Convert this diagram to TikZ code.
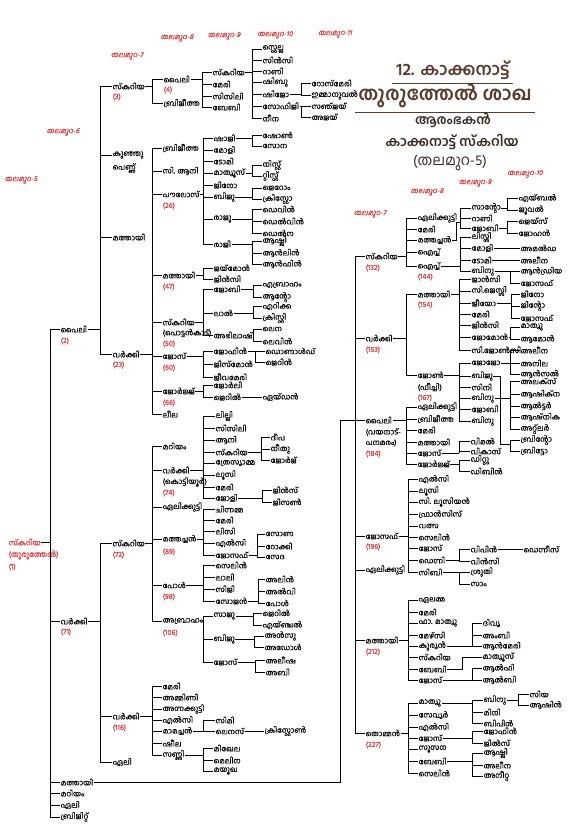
\documentclass[tikz,border=0pt]{standalone}
\usepackage{fontspec}
\newfontfamily\ml[Script=Malayalam,FakeBold=0.35]{Hind Kochi}
\newfontfamily\mlt[Script=Malayalam]{Hind Kochi}
\newfontfamily\mlsl[Script=Malayalam,FakeSlant=0.22,FakeBold=0.3]{Hind Kochi}
\definecolor{numred}{HTML}{E03A3E}
\definecolor{genred}{HTML}{D93A3A}
\definecolor{brn}{HTML}{5A3A2C}
\definecolor{dbrn}{HTML}{3A2A24}
\tikzset{
 nm/.style={anchor=west,inner sep=0.5pt,font=\ml\fontsize{7.5}{8}\selectfont},
 nr/.style={nm,text=numred},
 gn/.style={anchor=center,inner sep=0pt,text=genred,font=\mlsl\fontsize{7.3}{8}\selectfont},
 ln/.style={line width=0.8pt},
}
\newcommand\N[4]{\node[nm] (#1) at (#2,#3) {#4};}
\newcommand\Nr[4]{\node[nr] (#1) at (#2,#3) {#4};}
\newcommand\fm[3]{\draw[ln] (#1.east) -- (#2,0 |- #1.east);
 \foreach \chld in {#3}{\draw[ln] (#2,0 |- #1.east) -- (#2,0 |- \chld.west) -- (\chld.west);}}
\newcommand\lk[2]{\draw[ln] (#1.east) -- (#2.west);}
\begin{document}
\begin{tikzpicture}[x=1pt,y=-1pt]
\fill[white] (0,0) rectangle (575,840);
\useasboundingbox (0,0) rectangle (575,840);
% titles
\node[font=\mlt\bfseries\fontsize{17}{20}\selectfont,text=brn] (tt1) at (453,70) {12. കാക്കനാട്ട്};
\draw[brn,line width=0.8pt] (392,83) -- (513,83);
\node[font=\mlt\bfseries\fontsize{19}{22}\selectfont,text=brn] (tt2) at (445,96) {തുരുത്തേൽ ശാഖ};
\draw[brn,line width=0.8pt] (355,112) -- (535,112);
\node[font=\mlt\bfseries\fontsize{13}{15}\selectfont,text=dbrn] (tt3) at (453,120) {ആരംഭകൻ};
\node[font=\mlt\bfseries\fontsize{13.5}{15}\selectfont,text=dbrn] (tt4) at (452,142) {കാക്കനാട്ട് സ്കറിയ};
\node[font=\mlt\fontsize{14.5}{16}\selectfont,text=dbrn] (tt5) at (450,163) {(തലമുറ-5)};
% generation labels
\node[gn] (g05) at (21,180) {തലമുറ-5};
\node[gn] (g06) at (63,132) {തലമുറ-6};
\node[gn] (g07) at (127,56) {തലമുറ-7};
\node[gn] (g08) at (177,38) {തലമുറ-8};
\node[gn] (g09) at (224,36) {തലമുറ-9};
\node[gn] (g10) at (275,35) {തലമുറ-10};
\node[gn] (g11) at (335,34) {തലമുറ-11};
\node[gn] (r07) at (370,214) {തലമുറ-7};
\node[gn] (r08) at (427,192) {തലമുറ-8};
\node[gn] (r09) at (475,183) {തലമുറ-9};
\node[gn] (r10) at (525,174) {തലമുറ-10};
% root
\node[nr] (r) at (8,542) {സ്കറിയ};
\node[nr] (r2) at (8,555) {(തുരുത്തേൽ)};
\node[nr] (r3) at (8,567) {(1)};
% gen 6
\N{a2}{60}{329}{പൈലി} \Nr{a2n}{60}{341}{(2)}
\N{a71}{60}{621}{വർക്കി} \Nr{a71n}{60}{632}{(71)}
\N{am}{60}{782}{മത്തായി}
\N{amr}{60}{793}{മറിയം}
\N{ae}{60}{805}{ഏലി}
\N{ab}{60}{817}{ബ്രിജിറ്റ്}
\fm{r}{50}{a2,a71,am,amr,ae,ab}
% gen 7 upper
\N{b3}{112}{86}{സ്കറിയ} \Nr{b3n}{112}{97}{(3)}
\N{bk}{112}{155}{കുഞ്ഞു} \N{bk2}{112}{168}{പെണ്ണ്}
\N{bm}{112}{237}{മത്തായി}
\N{b23}{112}{354}{വർക്കി} \Nr{b23n}{112}{365}{(23)}
\fm{a2}{100}{b3,bk,bm,b23}
\N{c4}{163}{79}{പൈലി} \Nr{c4n}{163}{90}{(4)}
\N{cbr}{163}{103}{ബ്രിജീത്ത}
\fm{b3}{152}{c4,cbr}
\N{d1}{212}{72}{സ്കറിയ}
\N{d2}{212}{84}{മേരി}
\N{d3}{212}{96}{സിസിലി}
\N{d4}{212}{107}{ബേബി}
\fm{c4}{202}{d1,d2,d3,d4}
\N{e1}{262}{49}{സ്റ്റെല്ല}
\N{e2}{262}{60}{സിൻസി}
\N{e3}{262}{71}{റാണി}
\N{e4}{262}{82}{ഷിബു}
\N{e5}{262}{94}{ഷിജോ}
\N{e6}{262}{106}{സോഫിജി}
\N{e7}{262}{118}{നീന}
\fm{d1}{252}{e1,e2,e3,e4,e5,e6,e7}
\N{f1}{311}{83}{റോസ്മേരി}
\N{f2}{311}{95}{ഇമ്മാനുവൽ}
\N{f3}{311}{106}{സഞ്ജയ്}
\N{f4}{311}{117}{അജയ്}
\fm{e5}{301}{f1,f2}
\fm{e6}{301}{f3,f4}
% children of varkki (23)
\N{g1}{162}{148}{ബ്രിജീത്ത}
\N{g2}{162}{171}{സി. ആനി}
\N{g3}{162}{194}{പൗലോസ്} \Nr{g3n}{162}{206}{(26)}
\N{g4}{162}{275}{മത്തായി} \Nr{g4n}{162}{287}{(47)}
\N{g5}{162}{322}{സ്കറിയ} \N{g5b}{162}{333}{(പൊട്ടൻകാട്)} \Nr{g5n}{162}{344}{(50)}
\N{g6}{162}{356}{ജോസ്} \Nr{g6n}{162}{368}{(60)}
\N{g7}{162}{391}{ജോർജ്ജ്} \Nr{g7n}{162}{403}{(66)}
\N{g8}{162}{414}{ലീല}
\fm{b23}{152}{g1,g2,g3,g4,g5,g6,g7,g8}
\N{h1}{213}{138}{ഷാജി}
\N{h2}{213}{150}{മോളി}
\N{h3}{213}{161}{ടോമി}
\N{h4}{213}{173}{മാത്യൂസ്}
\N{h5}{213}{185}{ജിനോ}
\N{h6}{213}{197}{ബിജു}
\N{h7}{213}{219}{രാജു}
\N{h8}{213}{244}{രാജി}
\fm{g3}{203}{h1,h2,h3,h4,h5,h6,h7,h8}
\N{i1}{262}{135}{ഷോൺ}
\N{i2}{262}{146}{സോന}
\fm{h1}{252}{i1,i2}
\N{i3}{262}{165}{നിസ്റ്റ്}
\N{i4}{262}{176}{റ്റിസ്റ്റ്}
\fm{h4}{252}{i3,i4}
\N{i5}{262}{188}{ജെറോം}
\N{i6}{262}{199}{ക്രിസ്റ്റോ}
\fm{h6}{252}{i5,i6}
\N{i7}{262}{209}{ഡെവിൻ}
\N{i8}{262}{221}{ഡെൽവിൻ}
\N{i9}{262}{233}{ഡെൽന}
\fm{h7}{252}{i7,i8,i9}
\N{i10}{262}{241}{ആഷ്ലി}
\N{i11}{262}{253}{ആൻലിൻ}
\N{i12}{262}{264}{ആൻഫിൻ}
\fm{h8}{252}{i10,i11,i12}
\N{h9}{213}{268}{ജയ്മോൻ}
\N{h10}{213}{279}{ജിൻസി}
\fm{g4}{203}{h9,h10}
\N{h11}{213}{289}{ജോബി}
\N{h12}{213}{313}{ലാൽ}
\N{h13}{213}{335}{അഭിലാഷ്}
\fm{g5}{203}{h11,h12,h13}
\N{i13}{262}{285}{എബ്രാഹം}
\N{i14}{262}{297}{ആന്റോ}
\fm{h11}{253}{i13,i14}
\N{i15}{262}{306}{എറിക്ക}
\N{i16}{262}{318}{ക്രിസ്റ്റി}
\fm{h12}{253}{i15,i16}
\N{i17}{262}{329}{ലെന}
\N{i18}{262}{341}{ലെവിൻ}
\fm{h13}{253}{i17,i18}
\N{h14}{213}{351}{ജോഫിൻ}
\N{h15}{213}{364}{ജിസ്മോൻ}
\N{h16}{213}{377}{ജീവമേരി}
\fm{g6}{203}{h14,h15,h16}
\N{i19}{265}{351}{ഡൊണാൾഡ്}
\N{i20}{265}{362}{ജെറിൻ}
\fm{h14}{255}{i19,i20}
\N{h17}{213}{385}{ജോർലി}
\N{h18}{213}{397}{ജെറിൽ}
\fm{g7}{203}{h17,h18}
\N{i21}{262}{397}{ഏയ്ഡൻ}
\lk{h18}{i21}
% gen 7 lower
\N{j72}{112}{543}{സ്കറിയ} \Nr{j72n}{112}{555}{(72)}
\N{j116}{112}{716}{വർക്കി} \Nr{j116n}{112}{728}{(116)}
\N{je}{112}{762}{ഏലി}
\fm{a71}{100}{j72,j116,je}
\N{k1}{162}{446}{മറിയം}
\N{k2}{162}{470}{വർക്കി} \N{k2b}{162}{482}{(കൊട്ടിയൂർ)} \Nr{k2n}{162}{493}{(74)}
\N{k3}{162}{507}{ഏലിക്കുട്ടി}
\N{k4}{162}{539}{മത്തച്ചൻ} \Nr{k4n}{162}{552}{(89)}
\N{k5}{162}{585}{പോൾ} \Nr{k5n}{162}{597}{(98)}
\N{k6}{162}{621}{അബ്രാഹം} \Nr{k6n}{162}{633}{(106)}
\fm{j72}{152}{k1,k2,k3,k4,k5,k6}
\N{l1}{215}{416}{ലില്ലി}
\N{l2}{215}{428}{സിസിലി}
\N{l3}{215}{440}{ആനി}
\N{l4}{215}{452}{സ്കറിയ}
\N{l5}{215}{463}{ത്രേസ്യാമ്മ}
\N{l6}{215}{475}{ലൂസി}
\N{l7}{215}{487}{മേരി}
\N{l8}{215}{498}{ജോളി}
\fm{k2}{203}{l1,l2,l3,l4,l5,l6,l7,l8}
\N{m1}{270}{437}{ദീപ}
\N{m2}{270}{449}{നീതു}
\N{m3}{270}{460}{ജോർജ്}
\fm{l4}{261}{m1,m2,m3}
\N{m4}{272}{490}{ജിൻസ്}
\N{m5}{272}{502}{ജിസൺ}
\fm{l8}{262}{m4,m5}
\N{l9}{215}{509}{ചിന്നമ്മ}
\N{l10}{215}{520}{മേരി}
\N{l11}{215}{531}{ലിസി}
\N{l12}{215}{543}{എൽസി}
\N{l13}{215}{555}{ജോസഫ്}
\fm{k4}{203}{l9,l10,l11,l12,l13}
\N{m6}{265}{534}{സോണ}
\N{m7}{265}{546}{റോക്കി}
\N{m8}{265}{557}{സേദ}
\fm{l13}{257}{m6,m7,m8}
\N{l14}{215}{565}{സെലിൻ}
\N{l15}{215}{577}{ലാലി}
\N{l16}{215}{589}{സിജി}
\N{l17}{215}{601}{സോജൻ}
\fm{k5}{203}{l14,l15,l16,l17}
\N{m9}{265}{579}{അലിൻ}
\N{m10}{265}{591}{അൽവി}
\N{m11}{265}{603}{പോൾ}
\fm{l17}{258}{m9,m10,m11}
\N{l18}{213}{616}{സാജു}
\N{l19}{213}{639}{ബിജു}
\N{l20}{213}{662}{ജോസ്}
\fm{k6}{203}{l18,l19,l20}
\N{m12}{262}{613}{ജെറിൽ}
\N{m13}{262}{625}{എയ്ഞ്ചൽ}
\fm{l18}{253}{m12,m13}
\N{m14}{264}{636}{അൻസു}
\N{m15}{264}{647}{അഡോൾ}
\fm{l19}{254}{m14,m15}
\N{m16}{265}{660}{അലീഷ}
\N{m17}{265}{672}{അബി}
\fm{l20}{255}{m16,m17}
\N{n1}{162}{686}{മേരി}
\N{n2}{162}{697}{അമ്മിണി}
\N{n3}{162}{709}{അന്നക്കുട്ടി}
\N{n4}{162}{720}{എൽസി}
\N{n5}{162}{731}{മാമച്ചൻ}
\N{n6}{162}{743}{ഷീല}
\N{n7}{162}{755}{സണ്ണി}
\fm{j116}{152}{n1,n2,n3,n4,n5,n6,n7}
\N{o1}{215}{720}{സിമി}
\N{o2}{215}{731}{ലെനസ്}
\fm{n5}{203}{o1,o2}
\N{o3}{264}{731}{ക്രിസ്റ്റോൺ}
\lk{o2}{o3}
\N{o4}{213}{748}{മിഖേല}
\N{o5}{213}{760}{മെലിന}
\N{o6}{213}{771}{മയൂഖ}
\fm{n7}{203}{o4,o5,o6}
% right tree gen 7
\N{rs}{365}{256}{സ്കറിയ} \Nr{rsn}{365}{268}{(132)}
\N{rv}{365}{338}{വർക്കി} \Nr{rvn}{365}{350}{(153)}
\N{rp}{365}{420}{പൈലി} \N{rpb}{365}{432}{(വയനാട്-} \N{rpc}{365}{443}{പനമരം)} \Nr{rpn}{365}{454}{(184)}
\N{rj}{365}{536}{ജോസഫ്} \Nr{rjn}{365}{547}{(196)}
\N{re}{365}{570}{ഏലിക്കുട്ടി}
\N{rm}{365}{640}{മത്തായി} \Nr{rmn}{365}{652}{(212)}
\N{rt}{365}{733}{തൊമ്മൻ} \Nr{rtn}{365}{745}{(227)}
\draw[ln] (am.east) -- (340,0 |- am.east) -- (340,0 |- rp.west) -- (355,0 |- rp.west);
\foreach \chld in {rs,rv,rp,rj,re,rm,rt}{\draw[ln] (355,0 |- rp.west) -- (355,0 |- \chld.west) -- (\chld.west);}
% skariya 132
\N{s1}{417}{218}{ഏലിക്കുട്ടി}
\N{s2}{417}{229}{മേരി}
\N{s3}{417}{240}{മത്തച്ചൻ}
\N{s4}{417}{252}{ഐപ്പ്}
\N{s5}{417}{266}{ഐപ്പ്} \Nr{s5n}{417}{277}{(144)}
\fm{rs}{406}{s1,s2,s3,s4,s5}
\N{t1}{471}{208}{സാന്റോ}
\N{t2}{471}{218}{റാണി}
\N{t3}{471}{228}{ജോബി}
\coordinate (mj) at (460,222);
\draw[ln] (s3.east) -- (456,0 |- s3.east) -- (456,222) -- (mj);
\foreach \chld in {t1,t2,t3}{\draw[ln] (mj) -- (460,0 |- \chld.west) -- (\chld.west);}
\N{u1}{518}{198}{എയ്ബൽ}
\N{u2}{518}{210}{ജൂവൽ}
\fm{t1}{507}{u1,u2}
\N{u3}{518}{221}{ജെയ്സ്}
\N{u4}{518}{233}{ജോഹൻ}
\fm{t3}{507}{u3,u4}
\N{t4}{471}{237}{ലിസ്സി}
\N{t5}{471}{248}{മോളി}
\N{t6}{471}{260}{ടോമി}
\N{t7}{471}{271}{ബിനു}
\fm{s5}{460}{t4,t5,t6,t7}
\N{u5}{520}{248}{അമൽഡ}
\lk{t5}{u5}
\N{u6}{520}{260}{അലീന}
\lk{t6}{u6}
\N{u7}{520}{271}{ആൻഡ്രിയ}
\N{u8}{520}{283}{ജോസഫ്}
\fm{t7}{510}{u7,u8}
% varkki 153
\N{s6}{417}{294}{മത്തായി} \Nr{s6n}{417}{305}{(154)}
\N{s7}{417}{375}{ജോൺ} \N{s7b}{417}{387}{(ഫീച്ചി)} \Nr{s7n}{417}{398}{(167)}
\fm{rv}{406}{s6,s7}
\N{t8}{471}{279}{ജാൻസി}
\N{t9}{471}{291}{സി.ജെസ്സി}
\N{t10}{471}{303}{ജീയോ}
\N{t11}{471}{314}{മേരി}
\N{t12}{471}{325}{ജിൻസി}
\N{t13}{471}{337}{ജോമോൻ}
\N{t14}{471}{350}{സി.ജോൺസി}
\fm{s6}{459}{t8,t9,t10,t11,t12,t13,t14}
\N{u9}{520}{294}{ജിനോ}
\N{u10}{520}{306}{ജിന്റോ}
\N{u11}{520}{318}{ജോസഫ്}
\fm{t10}{511}{u9,u10,u11}
\N{u12}{520}{327}{മാത്യു}
\N{u13}{520}{339}{ആമോൻ}
\fm{t13}{510}{u12,u13}
\N{t15}{471}{363}{ജോജോ}
\N{t16}{471}{376}{ബിജു}
\N{t17}{471}{387}{സിനി}
\N{t18}{471}{398}{ബിനു}
\N{t19}{471}{409}{ജോബി}
\N{t20}{471}{421}{ബിനു}
\fm{s7}{459}{t15,t16,t17,t18,t19,t20}
\N{u14}{520}{350}{അലീന}
\N{u15}{520}{363}{അനില}
\N{u16}{520}{374}{ആൻസൽ}
\fm{t15}{510}{u14,u15,u16}
\N{u17}{520}{381}{അലക്സ്}
\N{u18}{520}{394}{ആഷിക്ന}
\N{u19}{520}{406}{ആൽട്ടർ}
\N{u20}{520}{417}{ആഷ്നിക}
\N{u21}{520}{429}{അറ്റ്ലർ}
\fm{t18}{510}{u17,u18,u19,u20,u21}
\N{u22}{520}{440}{ബ്രിന്റോ}
\N{u23}{520}{451}{ബ്രിട്ടോ}
\coordinate (bj) at (510,444);
\draw[ln] (t16.east) -- (500,0 |- t16.east) -- (500,444) -- (bj);
\foreach \chld in {u22,u23}{\draw[ln] (bj) -- (510,0 |- \chld.west) -- (\chld.west);}
% paili 184
\N{s8}{417}{407}{ഏലിക്കുട്ടി}
\N{s9}{417}{419}{ബ്രിജീത്ത}
\N{s10}{417}{430}{മേരി}
\N{s11}{417}{442}{മത്തായി}
\N{s12}{417}{453}{ജോസ്}
\N{s13}{417}{464}{ജോർജ്ജ്}
\fm{rp}{406}{s8,s9,s10,s11,s12,s13}
\N{t21}{470}{441}{വിമൽ}
\N{t22}{470}{451}{വികാസ്}
\fm{s12}{459}{t21,t22}
\N{t23}{470}{460}{ഡിറ്റു}
\N{t24}{470}{471}{ഡിബിൻ}
\fm{s13}{459}{t23,t24}
% joseph 196
\N{s14}{418}{479}{എൽസി}
\N{s15}{418}{491}{ലൂസി}
\N{s16}{418}{502}{സി. ലൂസിയൻ}
\N{s17}{418}{514}{ഫ്രാൻസിസ്}
\N{s18}{418}{526}{വത്സ}
\N{s19}{418}{537}{സെലിൻ}
\N{s20}{418}{548}{ജോസ്}
\N{s21}{418}{560}{ഡെന്നി}
\N{s22}{418}{572}{സിബി}
\fm{rj}{408}{s14,s15,s16,s17,s18,s19,s20,s21,s22}
\N{t25}{470}{549}{വിപിൻ}
\N{t26}{470}{561}{വിൻസി}
\fm{s21}{459}{t25,t26}
\N{u24}{523}{549}{ഡെന്നീസ്}
\lk{t25}{u24}
\N{t27}{470}{572}{ശ്രുതി}
\N{t28}{470}{584}{സാം}
\fm{s22}{459}{t27,t28}
% mathayi 212
\N{s23}{418}{600}{ഏലമ്മ}
\N{s24}{418}{612}{മേരി}
\N{s25}{418}{623}{ഫാ. മാത്യു}
\N{s26}{418}{635}{മേഴ്സി}
\N{s27}{418}{646}{കുര്യൻ}
\N{s28}{418}{657}{സ്കറിയ}
\N{s29}{418}{669}{ബേബി}
\N{s30}{418}{680}{ജോസ്}
\fm{rm}{408}{s23,s24,s25,s26,s27,s28,s29,s30}
\N{t29}{482}{623}{ദിവ്യ}
\N{t30}{482}{635}{അംബി}
\N{t31}{482}{646}{ആൻമേരി}
\fm{s27}{472}{t29,t30,t31}
\N{t32}{482}{657}{മാത്യൂസ്}
\draw[ln] (s29.east) -- (462,0 |- s29.east) -- (462,0 |- t32.west) -- (t32.west);
\N{t33}{482}{668}{ആൽഫി}
\N{t34}{482}{680}{ആൽബി}
\fm{s30}{472}{t33,t34}
% thomman 227
\N{s31}{418}{703}{മാത്യു}
\N{s32}{418}{715}{സേവ്യർ}
\N{s33}{418}{727}{എൽസി}
\N{s34}{418}{738}{ജോസ്}
\N{s35}{418}{749}{സൂസന}
\N{s36}{418}{761}{ബേബി}
\N{s37}{418}{773}{സെലിൻ}
\fm{rt}{408}{s31,s32,s33,s34,s35,s36,s37}
\N{t35}{483}{700}{ബിനു}
\N{t36}{483}{712}{മിനി}
\N{t37}{483}{723}{ബിപിൻ}
\fm{s31}{472}{t35,t36,t37}
\N{u25}{529}{694}{സിയ}
\N{u26}{529}{705}{ആഷിൻ}
\fm{t35}{518}{u25,u26}
\N{t38}{483}{731}{ജോഫിൻ}
\N{t39}{483}{743}{ജിൽസ്}
\fm{s34}{472}{t38,t39}
\N{t40}{483}{753}{ആഷ്ലി}
\N{t41}{483}{765}{അലീന}
\N{t42}{483}{776}{അനീറ്റ}
\fm{s36}{472}{t40,t41,t42}
\end{tikzpicture}
\end{document}
